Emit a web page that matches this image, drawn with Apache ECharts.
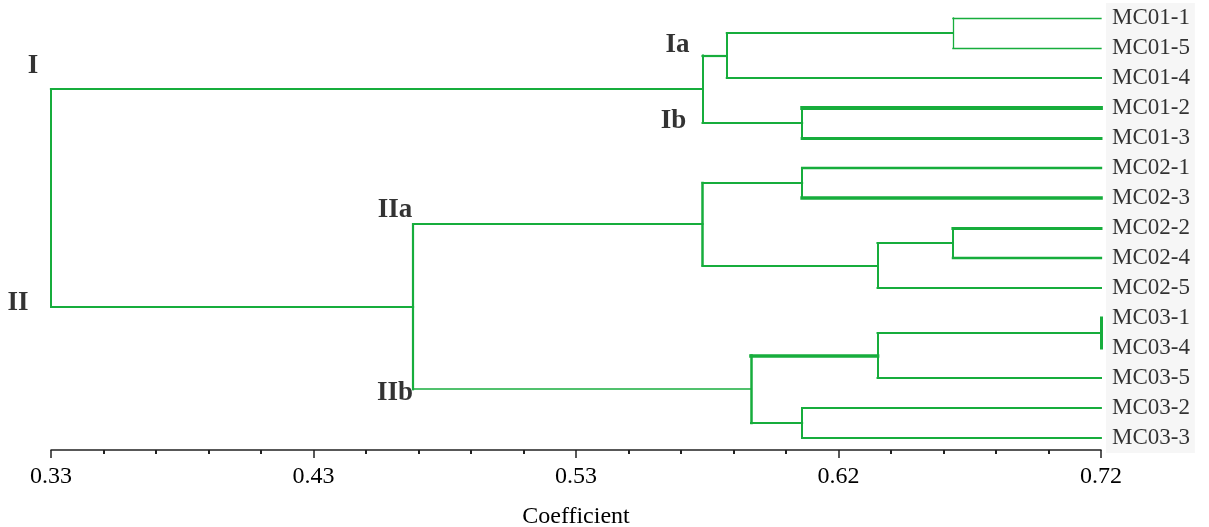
<!DOCTYPE html>
<html>
<head>
<meta charset="utf-8">
<script src="https://cdn.jsdelivr.net/npm/echarts@6/dist/echarts.min.js"></script>
<style>
html,body{margin:0;padding:0;background:#fff;}
#chart{width:1209px;height:527px;}
</style>
</head>
<body>
<div id="chart"></div>
<script>
// ---- data ----
const leaves = ['MC01-1','MC01-5','MC01-4','MC01-2','MC01-3','MC02-1','MC02-3','MC02-2','MC02-4','MC02-5','MC03-1','MC03-4','MC03-5','MC03-2','MC03-3'];
// merges (node ids: leaves 0..14, merges 15..28 in order)
const mergeLeft  = [0, 15, 3, 16, 5, 7, 20, 19, 10, 23, 13, 24, 22, 18];
const mergeRight = [1, 2, 4, 17, 6, 8, 9, 21, 11, 12, 14, 25, 26, 27];
const mergeCoef  = [0.665, 0.581, 0.609, 0.572, 0.609, 0.665, 0.637, 0.572, 0.720, 0.637, 0.609, 0.590, 0.4645, 0.330];
const leafCoef = 0.72;
const axisMin = 0.33, axisMax = 0.72;
const tickLabels = ['0.33', '0.43', '0.53', '0.62', '0.72'];
const clusterNames = ['I', 'Ia', 'Ib', 'II', 'IIa', 'IIb'];
const clusterNodes = [18, 16, 17, 27, 22, 26];

// ---- styles (not data) ----
const GREEN = '#17ad3c';
const horizWidth = {0:1.3, 1:1.3, 2:2, 3:3.8, 4:3, 5:2.4, 6:3.6, 7:3, 8:2.3, 9:2, 10:2, 11:2, 12:2, 13:1.8, 14:1.8,
  15:2, 16:2.2, 17:2, 18:2.2, 19:2, 20:2.2, 21:2, 22:2, 23:2, 24:3.6, 25:2, 26:1.5, 27:2};
const vertWidth = {15:1.3, 16:2, 17:2, 18:2, 19:2, 20:2, 21:2, 22:2.5, 23:3, 24:2, 25:2, 26:2.5, 27:2.2, 28:2};
const clusterOffsets = {I:[-18,-23], Ia:[-25,-10], Ib:[-29,-2], II:[-33,-4], IIa:[-18,-14], IIb:[-18,4]};

// ---- build tree geometry from data ----
const nodeX = [], nodeY = [], parent = {};
leaves.forEach((l, i) => { nodeX[i] = leafCoef; nodeY[i] = i; });
mergeLeft.forEach((a, k) => {
  const b = mergeRight[k], id = leaves.length + k;
  nodeX[id] = mergeCoef[k];
  nodeY[id] = (nodeY[a] + nodeY[b]) / 2;
  parent[a] = id; parent[b] = id;
});
const segs = [];
mergeLeft.forEach((a, k) => {
  const b = mergeRight[k], id = leaves.length + k, x = nodeX[id];
  segs.push({coords: [[x, nodeY[a]], [x, nodeY[b]]], lineStyle: {width: vertWidth[id] || 2}});
  [a, b].forEach(c => {
    if (nodeX[c] > x) segs.push({coords: [[x, nodeY[c]], [nodeX[c], nodeY[c]]], lineStyle: {width: horizWidth[c] || 2}});
  });
});
const clusterPts = clusterNames.map((n, i) => {
  const id = clusterNodes[i];
  return {name: n, value: [nodeX[parent[id]], nodeY[id]], label: {offset: clusterOffsets[n]}};
});
const leafPts = leaves.map((n, i) => ({name: n, value: [nodeX[i], nodeY[i]]}));

const serif = '"Liberation Serif", "DejaVu Serif", serif';
const chart = echarts.init(document.getElementById('chart'));
chart.setOption({
  animation: false,
  grid: {left: 51, right: 108, top: 1.5, bottom: 77, containLabel: false, outerBoundsMode: 'none'},
  xAxis: [
    {type: 'value', min: axisMin, max: axisMax, show: false},
    {type: 'value', min: 0, max: tickLabels.length - 1, interval: 1, position: 'bottom',
     axisLine: {show: true, lineStyle: {color: '#222', width: 1.5}},
     axisTick: {show: true, length: 8, lineStyle: {color: '#222', width: 1.5}},
     minorTick: {show: true, splitNumber: 5, length: 4, lineStyle: {color: '#222', width: 2}},
     splitLine: {show: false},
     axisLabel: {margin: 15, fontFamily: serif, fontSize: 24, color: '#000',
       formatter: v => tickLabels[Math.round(v)] || ''},
     name: 'Coefficient', nameLocation: 'middle', nameGap: 55,
     nameTextStyle: {fontFamily: serif, fontSize: 24, color: '#000'}}
  ],
  yAxis: [
    {type: 'value', min: -0.55, max: leaves.length - 0.6, inverse: true, show: false}
  ],
  series: [
    {type: 'lines', coordinateSystem: 'cartesian2d', xAxisIndex: 0, yAxisIndex: 0,
     polyline: false, silent: true, clip: false,
     lineStyle: {color: GREEN, opacity: 1, cap: 'square'},
     data: segs},
    {type: 'scatter', xAxisIndex: 0, yAxisIndex: 0, symbolSize: 0, silent: true, clip: false,
     label: {show: true, position: 'right', distance: 5, formatter: '{b}', fontFamily: serif,
       fontSize: 23, color: '#000', backgroundColor: '#f4f4f4', padding: [4, 5, 3, 6], lineHeight: 23},
     labelLayout: {hideOverlap: false},
     data: leafPts},
    {type: 'scatter', xAxisIndex: 0, yAxisIndex: 0, symbolSize: 0, silent: true, clip: false,
     label: {show: true, position: 'inside', formatter: '{b}', fontFamily: serif,
       fontWeight: 'bold', fontSize: 27, color: '#000'},
     data: clusterPts}
  ]
});
</script>
</body>
</html>
